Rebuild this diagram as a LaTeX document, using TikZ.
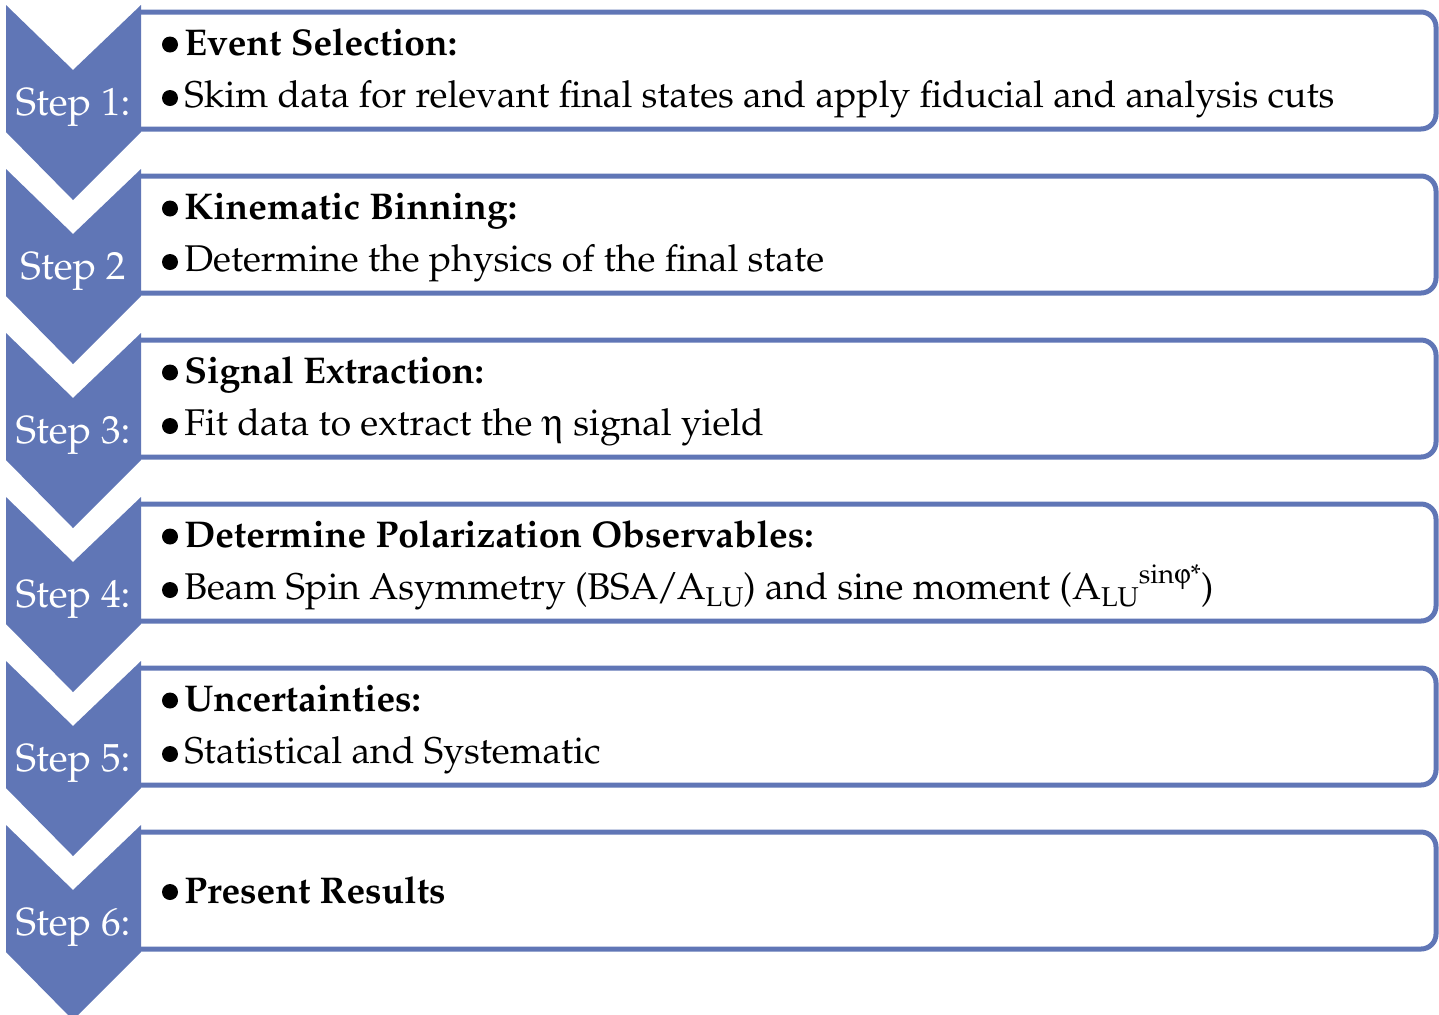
\documentclass[tikz,border=0pt]{standalone}
\usepackage[T1]{fontenc}
\usepackage{mathpazo}
\usepackage[Symbol]{upgreek}
\definecolor{stepblue}{RGB}{96,118,182}
\newcommand\lowsub[1]{\raisebox{-0.2em}{\fontsize{13.6}{14}\selectfont #1}}
\newcommand\highsup[1]{\raisebox{0.42em}{\fontsize{13.6}{14}\selectfont #1}}
\tikzset{
 chev/.style={fill=stepblue, draw=none},
 boxline/.style={draw=stepblue, line width=2.5pt, fill=white, rounded corners=7.5pt},
 steplabel/.style={text=white, font=\fontsize{19.6}{22}\selectfont, anchor=base, inner sep=0pt},
 headtext/.style={font=\fontsize{18.6}{22}\selectfont\bfseries, anchor=base west, inner sep=0pt},
 bodytext/.style={font=\fontsize{18.6}{22}\selectfont, anchor=base west, inner sep=0pt},
 bul/.style={fill=black}
}
\begin{document}
\begin{tikzpicture}[x=0.5pt,y=-0.5pt]
\useasboundingbox (0,0) rectangle (1439,1014);
\clip (0,0) rectangle (1439,1014);
\foreach \k in {0,...,5}{
 \pgfmathsetmacro{\dy}{164*\k}
 \path[boxline] (141,12+\dy) -- (1436,12+\dy) -- (1436,129+\dy) -- (141,129+\dy);
 \fill[chev] (6,5+\dy) -- (73,70+\dy) -- (141,5+\dy) -- (141,132+\dy) -- (73,200+\dy) -- (6,132+\dy) -- cycle;
}
% bullets
\foreach \k in {0,...,4}{
 \pgfmathsetmacro{\dy}{164*\k}
 \fill[bul] (170,44.5+\dy) circle[radius=4pt];
 \fill[bul] (170,98+\dy) circle[radius=4pt];
}
\fill[bul] (170,892) circle[radius=4pt];
% step labels
\node[steplabel] (s1) at (73,115) {Step 1:};
\node[steplabel] (s2) at (73,279) {Step 2};
\node[steplabel] (s3) at (73,443) {Step 3:};
\node[steplabel] (s4) at (73,607) {Step 4:};
\node[steplabel] (s5) at (73,771) {Step 5:};
\node[steplabel] (s6) at (73,935) {Step 6:};
% texts
\node[headtext] (h1) at (184,55) {Event Selection:};
\node[bodytext] (b1) at (184,107) {Skim data for relevant final states and apply fiducial and analysis cuts};
\node[headtext] (h2) at (184,219) {Kinematic Binning:};
\node[bodytext] (b2) at (184,271) {Determine the physics of the final state};
\node[headtext] (h3) at (184,383) {Signal Extraction:};
\node[bodytext] (b3) at (184,435) {Fit data to extract the $\upeta$ signal yield};
\node[headtext] (h4) at (184,547) {Determine Polarization Observables:};
\node[bodytext] (b4) at (184,599) {Beam Spin Asymmetry (BSA\kern-0.06em/\kern-0.06em A\lowsub{LU}) and sine moment (A\lowsub{LU}\highsup{sin$\upvarphi$*})};
\node[headtext] (h5) at (184,711) {Uncertainties:};
\node[bodytext] (b5) at (184,763) {Statistical and Systematic};
\node[headtext] (h6) at (184,903) {Present Results};
\end{tikzpicture}
\end{document}
